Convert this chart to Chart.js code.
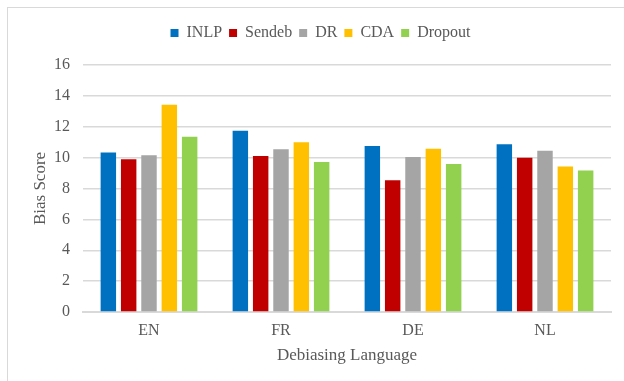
<!DOCTYPE html>
<html>
<head>
<meta charset="utf-8">
<script src="https://cdn.jsdelivr.net/npm/chart.js@4"></script>
<style>
  html, body { margin: 0; padding: 0; background: #fff; }
  #wrap { position: relative; width: 624px; height: 381px; }
  #frame { position: absolute; left: 7px; top: 7px; width: 640px; height: 400px; border: 1px solid #d9d9d9; box-sizing: border-box; }
  canvas { position: absolute; left: 0; top: 0; }
  #warm { position: absolute; left: -999px; font-family: 'Liberation Serif'; }
</style>
</head>
<body>
<div id="wrap">
  <div id="frame"></div>
  <canvas id="chart" width="624" height="381"></canvas>
</div>
<span id="warm">Bias Score 0123456789</span>
<script>
// bias scores per debiasing language
const languages = ['EN', 'FR', 'DE', 'NL'];
const inlp    = [10.34, 11.74, 10.75, 10.86];
const sendeb  = [9.90, 10.10, 8.54, 10.00];
const dr      = [10.15, 10.54, 10.04, 10.45];
const cda     = [13.42, 11.00, 10.58, 9.42];
const dropout = [11.35, 9.72, 9.59, 9.16];
const yTicks  = [0, 2, 4, 6, 8, 10, 12, 14, 16];

const grey = '#595959';
const serif = 'Liberation Serif';
Chart.defaults.font.family = serif;
Chart.defaults.color = grey;

// push the plot area down a bit below the legend
const legendGap = {
    id: 'legendGap',
    beforeInit(chart) {
        const fit = chart.legend.fit;
        chart.legend.fit = function () {
            fit.bind(this)();
            this.height += 14;
        };
    }
};

function draw() {
    new Chart(document.getElementById('chart'), {
        type: 'bar',
        data: {
            labels: languages,
            datasets: [
                { label: 'INLP', data: inlp, backgroundColor: '#0070C0' },
                { label: 'Sendeb', data: sendeb, backgroundColor: '#C00000' },
                { label: 'DR', data: dr, backgroundColor: '#A5A5A5' },
                { label: 'CDA', data: cda, backgroundColor: '#FFC000' },
                { label: 'Dropout', data: dropout, backgroundColor: '#92D050' }
            ]
        },
        options: {
            responsive: false,
            animation: false,
            layout: { padding: { left: 30, right: 13, top: 18, bottom: 15 } },
            datasets: {
                bar: { categoryPercentage: 0.77, barPercentage: 0.76 }
            },
            plugins: {
                tooltip: { enabled: false },
                legend: {
                    position: 'top',
                    labels: {
                        font: { family: serif, size: 16 },
                        color: grey,
                        boxWidth: 8,
                        boxHeight: 8,
                        padding: 7
                    }
                }
            },
            scales: {
                x: {
                    afterFit(scale) {
                        scale.height = 54;
                    },
                    grid: { display: false, drawTicks: false },
                    border: { display: true, color: '#d9d9d9', width: 2 },
                    ticks: { font: { family: serif, size: 16 }, color: grey, padding: 9 },
                    title: {
                        display: true,
                        text: 'Debiasing Language',
                        font: { family: serif, size: 17 },
                        color: grey,
                        padding: { top: 0, bottom: 0 }
                    }
                },
                y: {
                    min: 0,
                    max: 16,
                    afterBuildTicks(scale) {
                        scale.ticks = yTicks.map(v => ({ value: v }));
                    },
                    afterFit(scale) {
                        scale.width = 53;
                    },
                    grid: { color: '#d9d9d9', lineWidth: 1.5, drawTicks: false },
                    border: { display: false },
                    ticks: { font: { family: serif, size: 16 }, color: grey, padding: 13 },
                    title: {
                        display: true,
                        text: 'Bias Score',
                        font: { family: serif, size: 17 },
                        color: grey,
                        padding: { top: 0, bottom: 6 }
                    }
                }
            }
        },
        plugins: [legendGap]
    });
}

if (document.fonts && document.fonts.load) {
    Promise.all([
        document.fonts.load("16px 'Liberation Serif'"),
        document.fonts.ready
    ]).then(draw, draw);
} else {
    draw();
}
</script>
</body>
</html>
